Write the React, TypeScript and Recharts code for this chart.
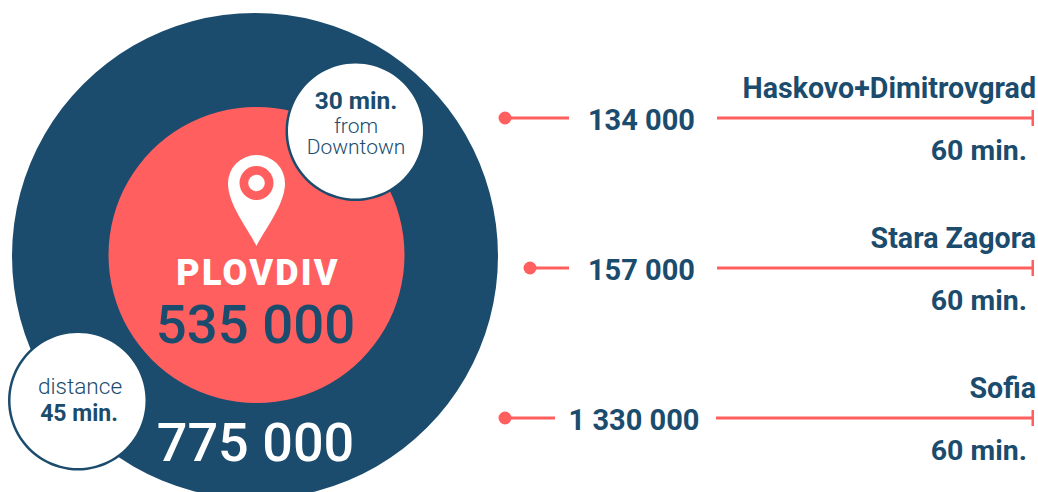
import { Bar, BarChart, LabelList, Pie, PieChart, XAxis, YAxis } from "recharts";

const NAVY = "#1b4c6d";
const CORAL = "#ff5f5f";
const FONT = "Roboto, sans-serif";

// values
const cities = ["Haskovo+Dimitrovgrad", "Stara Zagora", "Sofia"];
const populations = ["134 000", "157 000", "1 330 000"];
const travelTimes = ["60 min.", "60 min.", "60 min."];
const plovdivCity = 535000;
const plovdivRegion = 775000;

// row geometry in page pixels, one entry per city
const leadStart = [505, 530, 505];
const leadLength = [64, 39, 50];
const gapLength = [148, 148, 161];
const lineLength = [315, 315, 316];

const rows = cities.map((city, i) => ({
	city,
	population: populations[i],
	travel: travelTimes[i],
	leadStart: leadStart[i],
	leadLength: leadLength[i],
	gapLength: gapLength[i],
	lineLength: lineLength[i],
}));

function LeadShape({ x, y, width, height }: any) {
	return (
		<g>
			<rect x={x} y={y} width={width} height={height} fill={CORAL} />
			<circle cx={x} cy={y + height / 2} r={6.5} fill={CORAL} />
		</g>
	);
}

function LineShape({ x, y, width, height }: any) {
	return (
		<g>
			<rect x={x} y={y} width={width} height={height} fill={CORAL} />
			<rect x={x + width - 0.5} y={y + height / 2 - 8} width={2.5} height={16} fill={CORAL} />
		</g>
	);
}

function PopulationLabel({ x, y, width, height, value }: any) {
	return (
		<text
			x={x + width / 2 - 1.5}
			y={y + height / 2 + 12}
			textAnchor="middle"
			fontFamily={FONT}
			fontWeight={700}
			fontSize={29}
			fill={NAVY}
		>
			{value}
		</text>
	);
}

function CityLabel({ x, y, width, height, value }: any) {
	return (
		<text
			x={x + width + 4}
			y={y + height / 2 - 20}
			textAnchor="end"
			fontFamily={FONT}
			fontWeight={700}
			fontSize={28.6}
			fill={NAVY}
		>
			{value}
		</text>
	);
}

function TravelLabel({ x, y, width, height, value }: any) {
	return (
		<text
			x={x + width - 5}
			y={y + height / 2 + 41.5}
			textAnchor="end"
			fontFamily={FONT}
			fontWeight={700}
			fontSize={28.5}
			fill={NAVY}
		>
			{value}
		</text>
	);
}

function Circle({
	name,
	value,
	cx,
	cy,
	r,
	fill,
}: {
	name: string;
	value: number;
	cx: number;
	cy: number;
	r: number;
	fill: string;
}) {
	return (
		<Pie
			key={name}
			data={[{ name, value }]}
			dataKey="value"
			cx={cx}
			cy={cy}
			innerRadius={0}
			outerRadius={r}
			startAngle={90}
			endAngle={450}
			fill={fill}
			stroke="none"
			isAnimationActive={false}
		/>
	);
}

function CirclesChart() {
	return (
		<PieChart width={1038} height={492} margin={{ top: 0, right: 0, bottom: 0, left: 0 }}>
			{Circle({ name: "Region", value: plovdivRegion, cx: 255, cy: 256, r: 243, fill: NAVY })}
			{Circle({ name: "City", value: plovdivCity, cx: 256.5, cy: 255, r: 148, fill: CORAL })}
			{Circle({ name: "30 ring", value: 30, cx: 355.5, cy: 131, r: 70, fill: NAVY })}
			{Circle({ name: "30 min", value: 30, cx: 355.5, cy: 131, r: 67.5, fill: "#ffffff" })}
			{Circle({ name: "45 ring", value: 45, cx: 78, cy: 400.5, r: 70, fill: NAVY })}
			{Circle({ name: "45 min", value: 45, cx: 78, cy: 400.5, r: 67.5, fill: "#ffffff" })}
		</PieChart>
	);
}

function CircleText() {
	const navyText = { fontFamily: FONT, fill: NAVY, textAnchor: "middle" as const };
	return (
		<svg width={1038} height={492} style={{ position: "absolute", left: 0, top: 0 }}>
			{/* map pin */}
			<path
				d="M256.5 246 C250 232 228 205 228 183.5 A28.5 28.5 0 0 1 285 183.5 C285 205 263 232 256.5 246 Z"
				fill="#ffffff"
			/>
			<circle cx={256.5} cy={183} r={17} fill={CORAL} />
			<circle cx={256.5} cy={183} r={8.3} fill="#ffffff" />

			<text x={258} y={285} textAnchor="middle" fontFamily={FONT} fontWeight={900} fontSize={36} letterSpacing={2.2} fill="#ffffff">
				PLOVDIV
			</text>
			<text x={255.5} y={343} {...navyText} fontWeight={500} fontSize={54.5}>
				535 000
			</text>
			<text x={255.5} y={461} textAnchor="middle" fontFamily={FONT} fontWeight={500} fontSize={54} fill="#ffffff">
				775 000
			</text>

			<text x={356} y={109} {...navyText} fontWeight={700} fontSize={24.5}>
				30 min.
			</text>
			<text {...navyText} fontWeight={300} fontSize={21}>
				<tspan x={356} y={133}>from</tspan>
				<tspan x={356} y={154}>Downtown</tspan>
			</text>

			<text x={80} y={394} {...navyText} fontWeight={300} fontSize={22.6}>
				distance
			</text>
			<text x={79} y={421} {...navyText} fontWeight={700} fontSize={23}>
				45 min.
			</text>
		</svg>
	);
}

function RowsChart() {
	return (
		<BarChart
			layout="vertical"
			width={1038}
			height={493}
			data={rows}
			barSize={3}
			margin={{ top: 42.5, right: 0, bottom: 0.5, left: 0 }}
		>
			<XAxis type="number" domain={[0, 1038]} hide />
			<YAxis type="category" dataKey="city" hide />
			<Bar dataKey="leadStart" stackId="row" fill="none" isAnimationActive={false} />
			<Bar dataKey="leadLength" stackId="row" shape={<LeadShape />} isAnimationActive={false} />
			<Bar dataKey="gapLength" stackId="row" fill="none" isAnimationActive={false}>
				<LabelList dataKey="population" content={<PopulationLabel />} />
			</Bar>
			<Bar dataKey="lineLength" stackId="row" shape={<LineShape />} isAnimationActive={false}>
				<LabelList dataKey="city" content={<CityLabel />} />
				<LabelList dataKey="travel" content={<TravelLabel />} />
			</Bar>
		</BarChart>
	);
}

export default function App() {
	return (
		<div
			style={{
				position: "absolute",
				left: 0,
				top: 0,
				width: 1038,
				height: 492,
				overflow: "hidden",
				background: "#ffffff",
			}}
		>
			<div style={{ position: "absolute", left: 0, top: 0 }}>
				<CirclesChart />
			</div>
			<CircleText />
			<div style={{ position: "absolute", left: 0, top: 0 }}>
				<RowsChart />
			</div>
		</div>
	);
}
